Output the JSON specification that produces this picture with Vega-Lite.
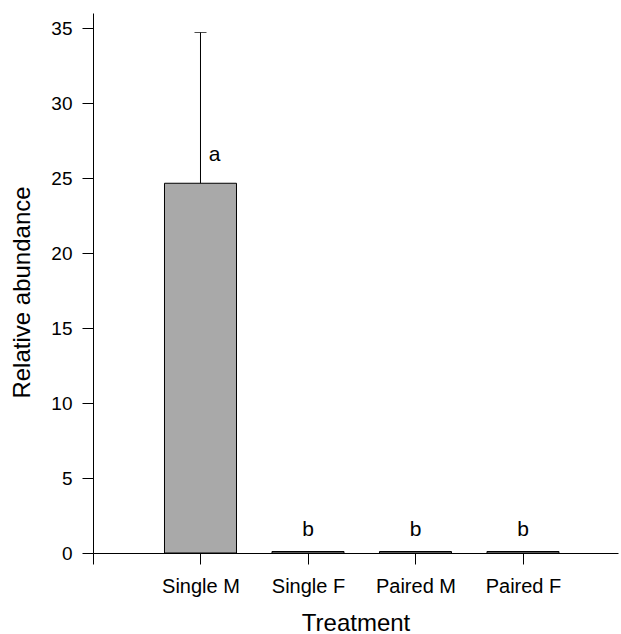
{
  "$schema": "https://vega.github.io/schema/vega-lite/v6.json",
  "width": 525,
  "height": 540,
  "autosize": {"type": "none"},
  "padding": {"left": 93, "top": 13, "right": 3, "bottom": 81},
  "background": "white",
  "config": {
    "view": {"stroke": null},
    "font": "Liberation Sans",
    "axis": {
      "domainColor": "black",
      "tickColor": "black",
      "domainWidth": 1,
      "tickWidth": 1,
      "tickSize": 11,
      "grid": false,
      "labelFont": "Liberation Sans",
      "labelFontSize": 19,
      "labelColor": "black",
      "titleFont": "Liberation Sans",
      "titleFontSize": 24,
      "titleFontWeight": "normal",
      "titleColor": "black"
    }
  },
  "data": {
    "values": [
      {"treatment": "Single M", "mean": 24.65, "upper": 34.7, "letter": "a"},
      {"treatment": "Single F", "mean": 0.1, "upper": 0.1, "letter": "b"},
      {"treatment": "Paired M", "mean": 0.1, "upper": 0.1, "letter": "b"},
      {"treatment": "Paired F", "mean": 0.1, "upper": 0.1, "letter": "b"}
    ]
  },
  "encoding": {
    "x": {
      "field": "treatment",
      "type": "nominal",
      "sort": null,
      "scale": {
        "type": "point",
        "domain": [" ", "Single M", "Single F", "Paired M", "Paired F"],
        "padding": 0.442,
        "align": 0
      },
      "axis": {"labelAngle": 0, "labelPadding": 12, "labelFontSize": 20, "titlePadding": 15},
      "title": "Treatment"
    }
  },
  "layer": [
    {
      "mark": {"type": "bar", "width": 72, "fill": "#a9a9a9", "stroke": "black", "strokeWidth": 1},
      "encoding": {
        "y": {
          "field": "mean",
          "type": "quantitative",
          "scale": {"domain": [0, 36], "nice": false},
          "axis": {"values": [0, 5, 10, 15, 20, 25, 30, 35], "labelPadding": 10, "titlePadding": 16, "titleY": 279},
          "title": "Relative abundance"
        }
      }
    },
    {
      "transform": [{"filter": "datum.upper > datum.mean"}],
      "mark": {"type": "rule", "color": "black", "strokeWidth": 1},
      "encoding": {
        "y": {"field": "mean", "type": "quantitative"},
        "y2": {"field": "upper"}
      }
    },
    {
      "transform": [{"filter": "datum.upper > datum.mean"}],
      "mark": {"type": "tick", "color": "black", "size": 12, "thickness": 1},
      "encoding": {
        "y": {"field": "upper", "type": "quantitative"}
      }
    },
    {
      "transform": [{"filter": "datum.treatment == 'Single M'"}],
      "mark": {"type": "text", "dx": 14, "dy": -28, "baseline": "middle", "align": "center", "fontSize": 21, "color": "black", "font": "Liberation Sans"},
      "encoding": {
        "y": {"field": "mean", "type": "quantitative"},
        "text": {"field": "letter"}
      }
    },
    {
      "transform": [{"filter": "datum.treatment != 'Single M'"}],
      "mark": {"type": "text", "dy": -22, "baseline": "middle", "align": "center", "fontSize": 21, "color": "black", "font": "Liberation Sans"},
      "encoding": {
        "y": {"field": "mean", "type": "quantitative"},
        "text": {"field": "letter"}
      }
    }
  ]
}
